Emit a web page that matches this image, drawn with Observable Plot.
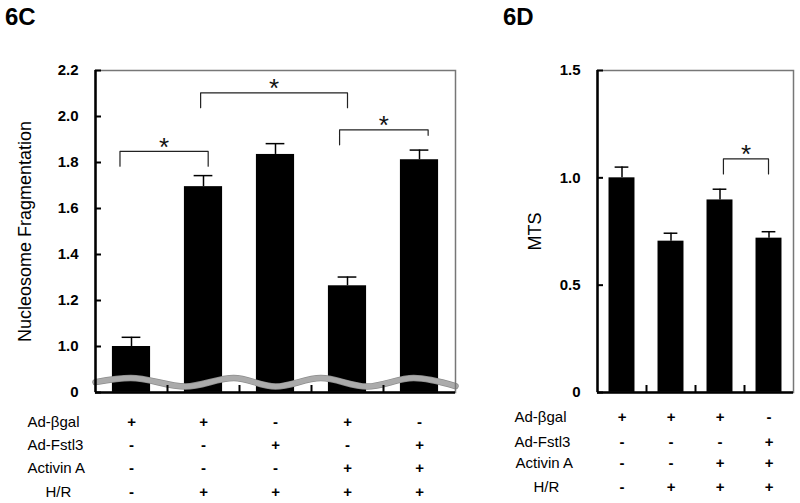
<!DOCTYPE html>
<html><head><meta charset="utf-8">
<script src="https://cdn.jsdelivr.net/npm/d3@7"></script>
<script src="https://cdn.jsdelivr.net/npm/@observablehq/plot@0.6"></script>
<style>
body{margin:0;background:#fff;}
#wrap{position:relative;width:800px;height:503px;font-family:"Liberation Sans",Arial,sans-serif;overflow:hidden;}
.panel{position:absolute;top:0;}
.ttl{position:absolute;top:5px;font-weight:bold;font-size:24px;line-height:24px;color:#000;}
</style>
</head><body>
<div id="wrap">
  <div class="panel" id="pc" style="left:0"></div>
  <div class="panel" id="pd" style="left:470px"></div>
  <div class="ttl" style="left:5px">6C</div>
  <div class="ttl" style="left:503px">6D</div>
</div>
<script>
// ---- Data: panel 6C ----
const valuesC = [1.00, 1.695, 1.835, 1.264, 1.812];
const errorsC = [0.040, 0.048, 0.047, 0.038, 0.042];
const yTicksC = [0.8, 1.0, 1.2, 1.4, 1.6, 1.8, 2.0, 2.2];
const yTickLabelsC = ["0", "1.0", "1.2", "1.4", "1.6", "1.8", "2.0", "2.2"];
const signsC = [
  ["+", "+", "-", "+", "-"],
  ["-", "-", "+", "-", "+"],
  ["-", "-", "-", "+", "+"],
  ["-", "+", "+", "+", "+"]
];
const bracketsC = [
  {from: 0.34, to: 1.565, top: 1.848, left: 1.784, right: 1.784},
  {from: 1.46, to: 3.50, top: 2.103, left: 2.038, right: 2.038},
  {from: 3.39, to: 4.62, top: 1.942, left: 1.877, right: 1.918}
];
// axis-break wave (x in bar slots, y in axis units)
const breakWaveX = [0, 0.49, 1.25, 1.92, 2.5, 3.13, 3.77, 4.42, 5];
const breakWaveY = [0.845, 0.863, 0.826, 0.863, 0.826, 0.863, 0.826, 0.863, 0.828];

// ---- Data: panel 6D ----
const valuesD = [1.00, 0.705, 0.897, 0.719];
const errorsD = [0.050, 0.037, 0.050, 0.030];
const yTicksD = [0, 0.5, 1.0, 1.5];
const yTickLabelsD = ["0", "0.5", "1.0", "1.5"];
const signsD = [
  ["+", "+", "+", "-"],
  ["-", "-", "-", "+"],
  ["-", "-", "+", "+"],
  ["-", "+", "+", "+"]
];
const bracketsD = [
  {from: 2.57, to: 3.49, top: 1.088, left: 1.018, right: 1.018}
];

const rowLabels = ["Ad-\u03b2gal", "Ad-Fstl3", "Activin A", "H/R"];

function panel(o) {
  const n = o.values.length;
  const H = 503, mt = 70, mb = 111;
  const fw = o.width - o.marginLeft - o.marginRight;
  const fh = H - mt - mb;
  const y0 = o.yDomain[0];
  const bars = o.values.map((v, i) => ({i, v, e: o.errors[i]}));
  const bracketPts = o.brackets.flatMap((b, k) => [
    {k, x: b.from, y: b.left}, {k, x: b.from, y: b.top},
    {k, x: b.to, y: b.top}, {k, x: b.to, y: b.right}
  ]);
  const marks = [
    Plot.rectY(bars, {x1: d => d.i + 0.235, x2: d => d.i + 0.765, y1: y0, y2: "v", fill: "black"}),
    Plot.ruleX(bars, {x: d => d.i + 0.5, y1: "v", y2: d => d.v + d.e, stroke: "black", strokeWidth: 1.5}),
    Plot.ruleY(bars, {y: d => d.v + d.e, x1: d => d.i + 0.5 - o.capHalf, x2: d => d.i + 0.5 + o.capHalf, stroke: "black", strokeWidth: 1.5}),
  ];
  if (o.wave) {
    const pts = o.wave.x.map((x, i) => ({x, y: o.wave.y[i]}));
    marks.push(Plot.line(pts, {x: "x", y: "y", stroke: "#8c8c8c", strokeWidth: 6.5, curve: "monotone-x"}));
    marks.push(Plot.line(pts, {x: "x", y: "y", stroke: "url(#chk)", strokeWidth: 5, curve: "monotone-x"}));
  }
  marks.push(
    Plot.line(bracketPts, {x: "x", y: "y", z: "k", stroke: "#222", strokeWidth: 1.2, curve: "linear"}),
    Plot.text(o.brackets, {x: d => (d.from + d.to) / 2, y: "top", text: () => "*", fontSize: 26, dy: -4, lineAnchor: "middle", fill: "#111"}),
    Plot.frame({stroke: "#777", strokeWidth: 1.5}),
    Plot.ruleX([0], {stroke: "black", strokeWidth: 2.5}),
    Plot.ruleY([y0], {stroke: "black", strokeWidth: 2.5}),
    Plot.tickX(d3.range(1, n), {x: d => d, insetTop: fh - 7, stroke: "black", strokeWidth: 2}),
    Plot.tickY(o.yTicks, {y: d => d, insetRight: fw - 6, stroke: "black", strokeWidth: 2}),
    Plot.axisY({ticks: o.yTicks, tickFormat: d => o.yTickLabels[o.yTicks.indexOf(d)], tickSize: 0, tickPadding: 17, label: null, fontSize: 15, fontWeight: "bold"}),
    Plot.text([o.yLabel], {text: d => d, frameAnchor: "left", rotate: -90, dx: o.yLabelDx, fontSize: 18, textAnchor: "middle", lineAnchor: "middle"})
  );
  o.signs.forEach((row, k) => {
    marks.push(Plot.text(row.map((s, i) => ({i, s})), {x: d => d.i + 0.5, text: "s", frameAnchor: "bottom", dy: o.rowDy[k], fontSize: 15, fontWeight: "bold", textAnchor: "middle", lineAnchor: "middle"}));
    marks.push(Plot.text([rowLabels[k]], {text: d => d, frameAnchor: "bottom-left", dx: o.labelDx[k], dy: o.rowDy[k], textAnchor: "start", fontSize: 15, lineAnchor: "middle"}));
  });
  const svg = Plot.plot({
    width: o.width, height: H,
    marginLeft: o.marginLeft, marginRight: o.marginRight, marginTop: mt, marginBottom: mb,
    style: {fontFamily: "Liberation Sans, Arial, sans-serif", background: "white", overflow: "visible"},
    x: {domain: [0, n], axis: null},
    y: {domain: o.yDomain, clamp: true},
    marks
  });
  const ns = "http://www.w3.org/2000/svg";
  const defs = document.createElementNS(ns, "defs");
  defs.innerHTML = '<pattern id="chk" width="2" height="2" patternUnits="userSpaceOnUse"><rect width="2" height="2" fill="#dcdcdc"/><rect width="1" height="1" fill="#7a7a7a"/><rect x="1" y="1" width="1" height="1" fill="#7a7a7a"/></pattern>';
  svg.insertBefore(defs, svg.firstChild);
  return svg;
}

document.getElementById("pc").appendChild(panel({
  values: valuesC, errors: errorsC, brackets: bracketsC, signs: signsC,
  yDomain: [0.8, 2.2], yTicks: yTicksC, yTickLabels: yTickLabelsC,
  yLabel: "Nucleosome Fragmentation", yLabelDx: -70,
  width: 470, marginLeft: 95, marginRight: 15, capHalf: 0.13,
  rowDy: [30, 53, 76, 100], labelDx: [-68, -68, -68, -50],
  wave: {x: breakWaveX, y: breakWaveY}
}));
document.getElementById("pd").appendChild(panel({
  values: valuesD, errors: errorsD, brackets: bracketsD, signs: signsD,
  yDomain: [0, 1.5], yTicks: yTicksD, yTickLabels: yTickLabelsD,
  yLabel: "MTS", yLabelDx: -62,
  width: 330, marginLeft: 127, marginRight: 7, capHalf: 0.14,
  rowDy: [25, 50, 71, 95], labelDx: [-83, -83, -82, -64],
  wave: null
}));
</script>
</body></html>
